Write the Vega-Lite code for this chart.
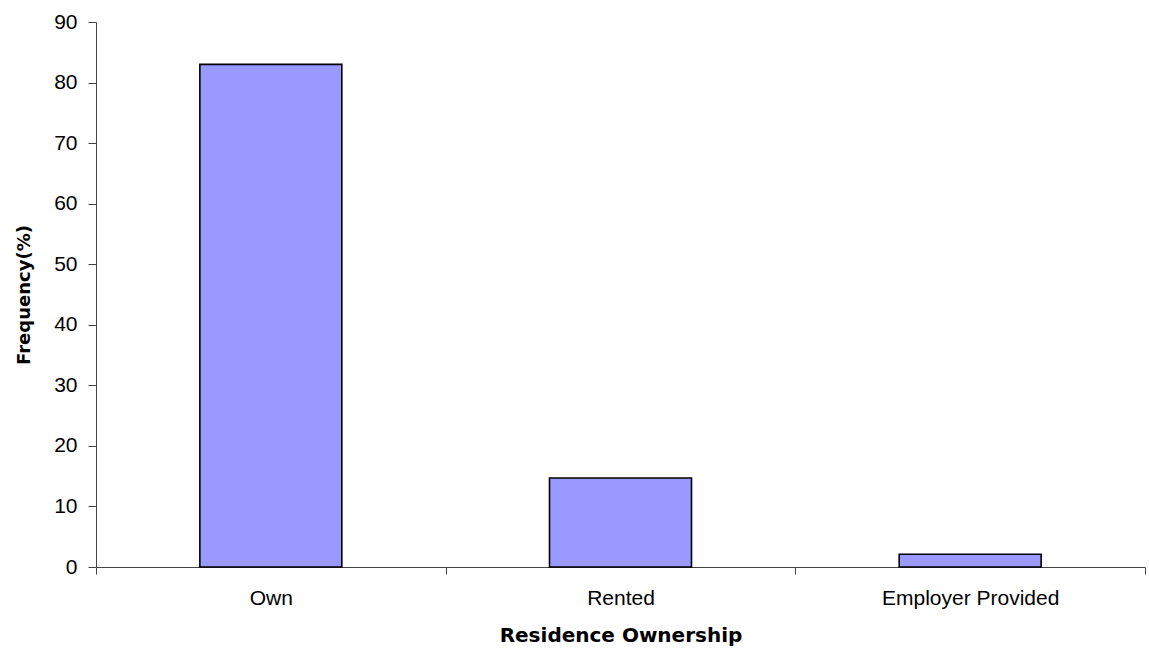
{
  "$schema": "https://vega.github.io/schema/vega-lite/v6.json",
  "autosize": "none",
  "width": 1049,
  "height": 545,
  "padding": {"left": 96, "top": 22, "right": 4, "bottom": 81},
  "background": "white",
  "config": {"view": {"stroke": null}, "font": "Liberation Sans"},
  "data": {"values": [
    {"ownership": "Own", "frequency": 83},
    {"ownership": "Rented", "frequency": 14.7},
    {"ownership": "Employer Provided", "frequency": 2.1}
  ]},
  "mark": {"type": "bar", "fill": "#9999FF", "stroke": "#000000", "strokeWidth": 1.6, "width": {"band": 0.406}},
  "encoding": {
    "x": {
      "field": "ownership", "type": "nominal", "sort": null,
      "scale": {"paddingInner": 0, "paddingOuter": 0},
      "axis": {
        "title": "Residence Ownership", "labelAngle": 0, "tickBand": "extent", "labelLimit": 0,
        "domainColor": "#444444", "tickColor": "#444444", "tickSize": 7,
        "labelFont": "Liberation Sans", "labelFontSize": 21, "labelColor": "#000000", "labelPadding": 13,
        "titleFont": "DejaVu Sans", "titleFontSize": 20, "titleFontWeight": "bold", "titleColor": "#000000", "titlePadding": 17
      }
    },
    "y": {
      "field": "frequency", "type": "quantitative",
      "scale": {"domain": [0, 90], "nice": false},
      "axis": {
        "title": "Frequency(%)", "values": [0,10,20,30,40,50,60,70,80,90], "grid": false,
        "domainColor": "#444444", "tickColor": "#444444", "tickSize": 8,
        "labelFont": "Liberation Sans", "labelFontSize": 21, "labelColor": "#000000", "labelPadding": 11,
        "titleFont": "DejaVu Sans", "titleFontSize": 18, "titleFontWeight": "bold", "titleColor": "#000000", "titlePadding": 20
      }
    }
  }
}
